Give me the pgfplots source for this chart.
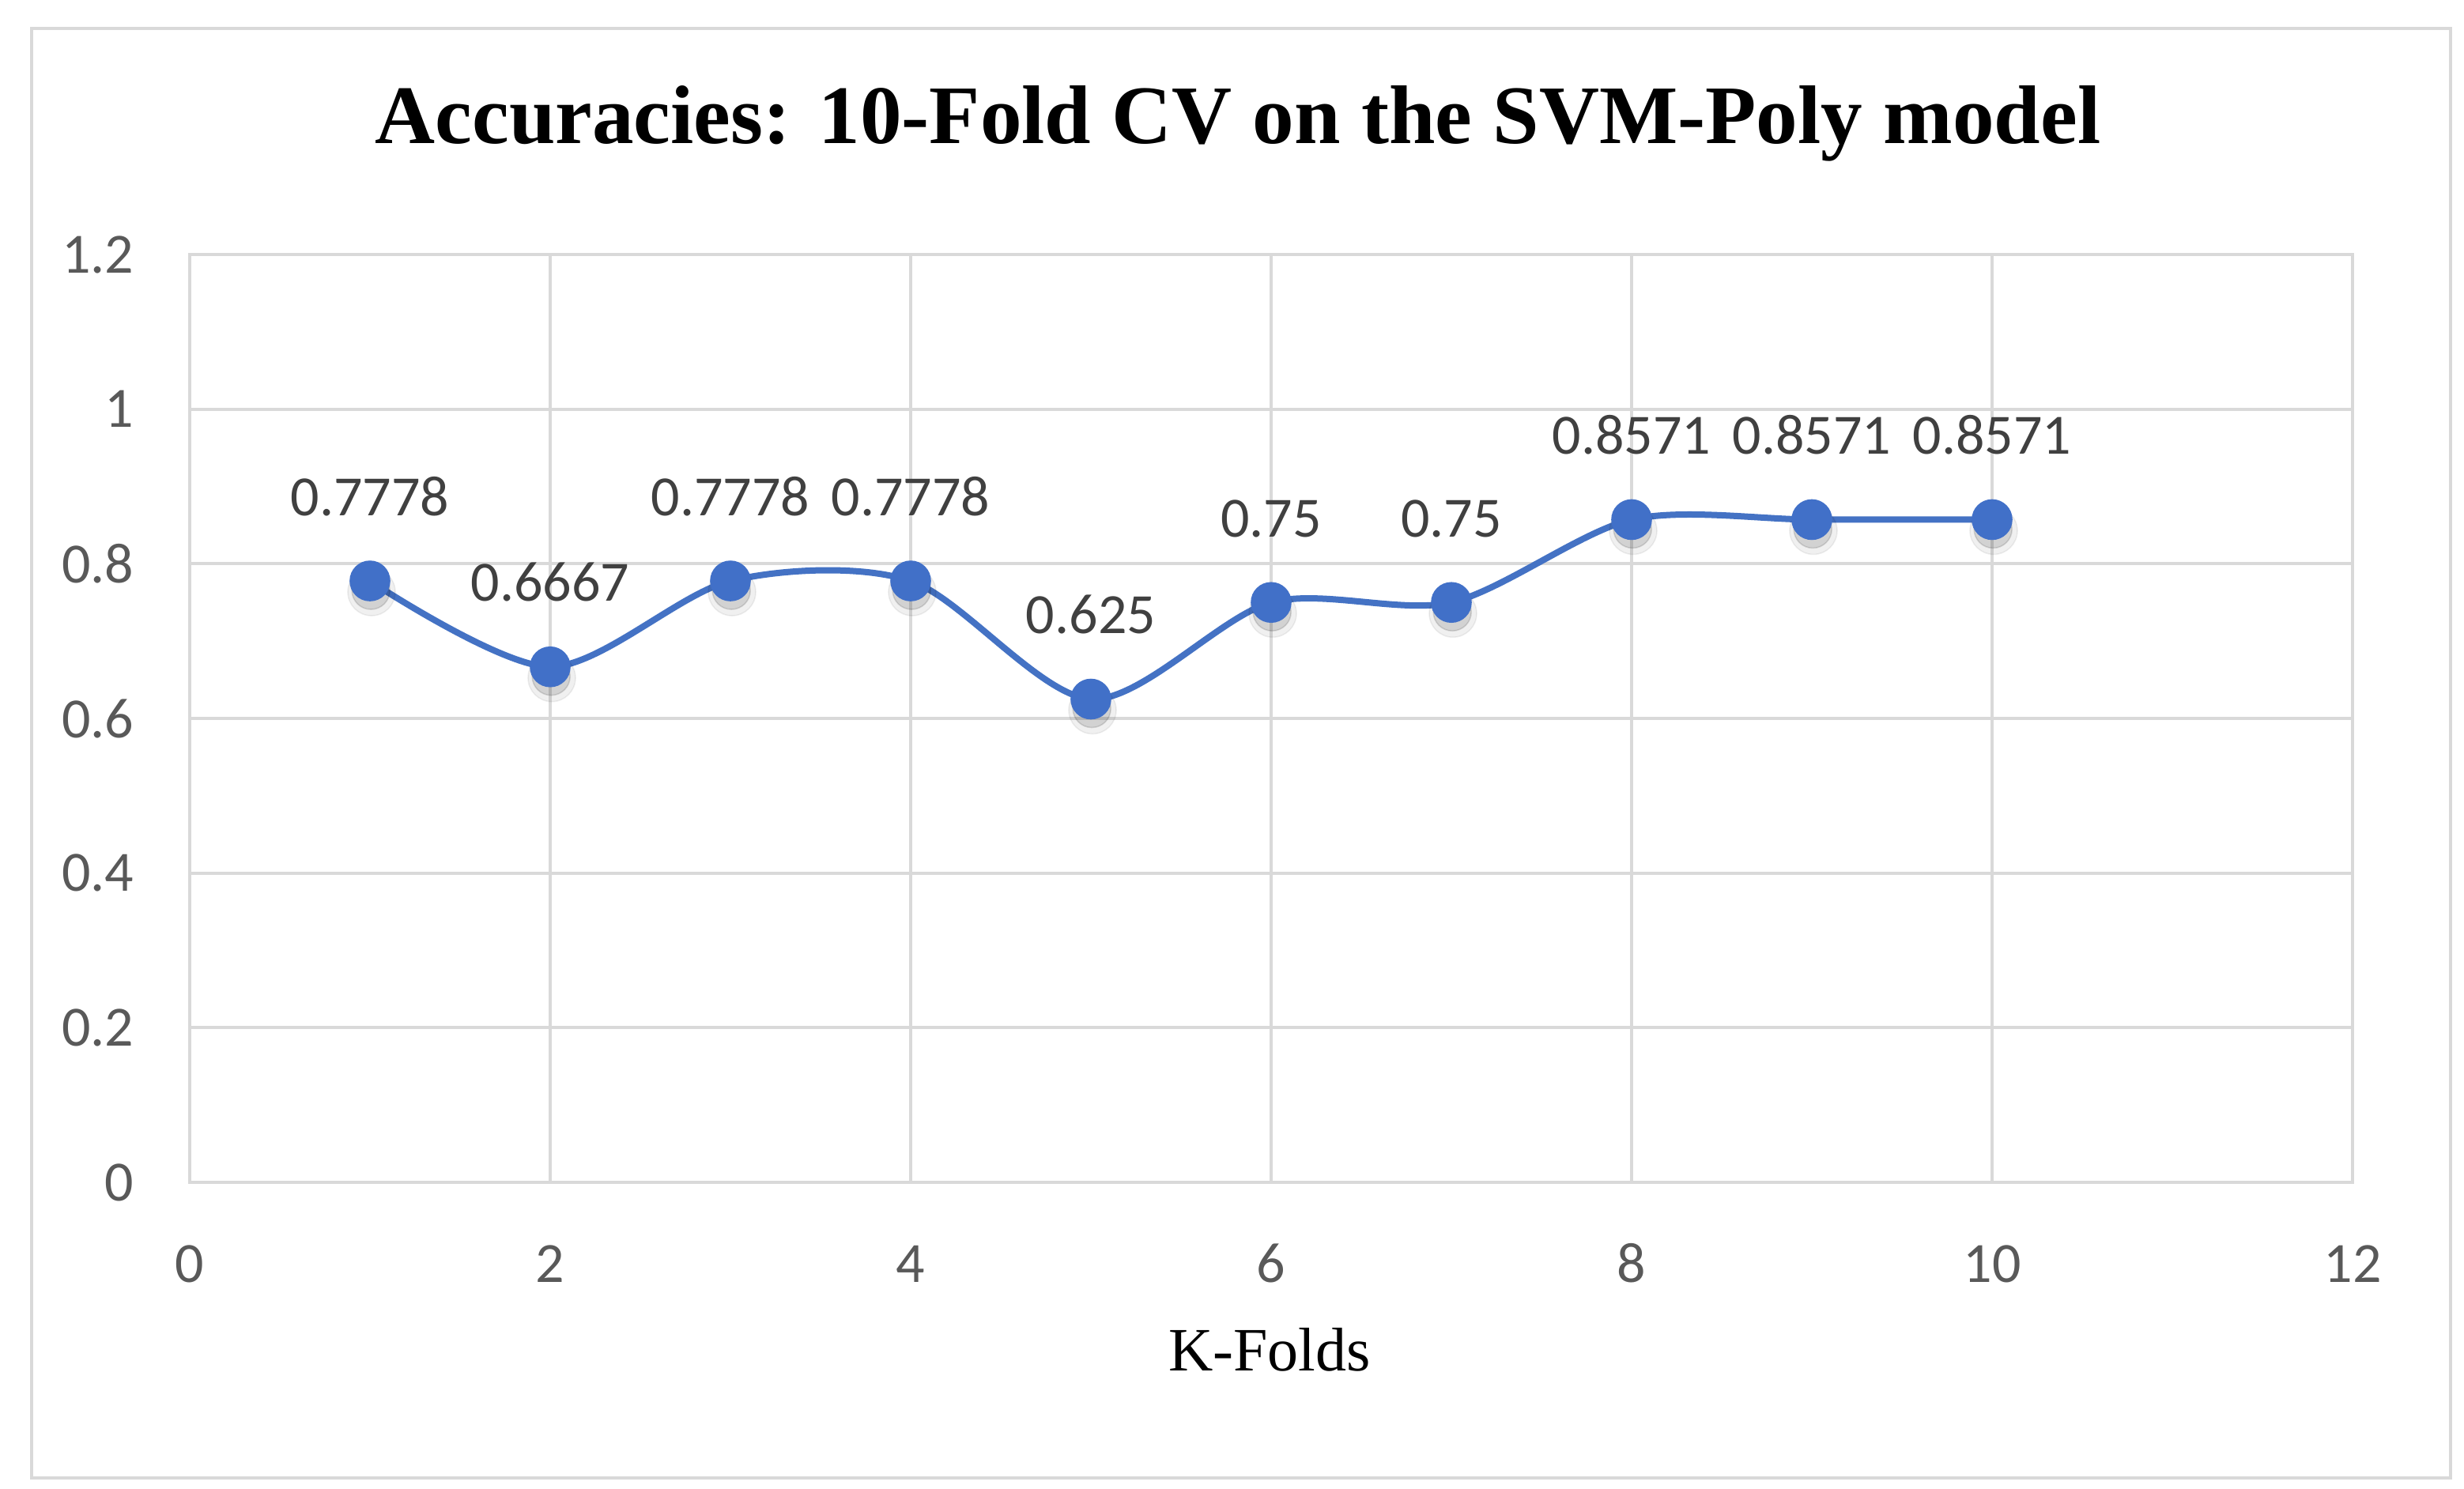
\documentclass[border=0pt]{standalone}
\usepackage{fontspec}
\setmainfont{Carlito}
\newfontfamily\seriffont{Liberation Serif}
\usepackage{pgfplots}
\usepackage{pgfplotstable}
\pgfplotsset{compat=1.18}
\definecolor{gridgray}{HTML}{D9D9D9}
\definecolor{series}{HTML}{4472C4}
\definecolor{markfill}{HTML}{4170C8}
\definecolor{ticktxt}{HTML}{595959}
\definecolor{lbltxt}{HTML}{404040}

\pgfplotstableread{
k acc lbl
1 0.7778 0.7778
2 0.6667 0.6667
3 0.7778 0.7778
4 0.7778 0.7778
5 0.625 0.625
6 0.75 0.75
7 0.75 0.75
8 0.8571 0.8571
9 0.8571 0.8571
10 0.8571 0.8571
}\datatable

\begin{document}
\begin{tikzpicture}
\useasboundingbox (0,0) rectangle (779.25pt,471pt);
\fill[white] (0,0) rectangle (779.25pt,471pt);
\draw[gridgray, line width=1.2pt] (10pt,3.5pt) rectangle (775pt,462pt);
\node[font={\seriffont\bfseries\fontsize{26.3pt}{30pt}\selectfont}, anchor=center, inner sep=0pt] at (391.5pt,432pt) {Accuracies: 10-Fold CV on the SVM-Poly model};
\begin{axis}[
  at={(60pt,97pt)}, anchor=south west,
  scale only axis, width=684pt, height=293.5pt,
  xmin=0, xmax=12, ymin=0, ymax=1.2,
  xtick={0,2,4,6,8,10,12},
  ytick={0,0.2,0.4,0.6,0.8,1,1.2},
  /pgf/number format/assume math mode=true,
  grid=major,
  major grid style={gridgray, line width=1pt},
  axis line style={gridgray, line width=1pt},
  major tick length=0pt,
  tick label style={font=\fontsize{18pt}{20pt}\selectfont, text=ticktxt},
  xticklabel style={anchor=base, inner sep=0pt, yshift=-31.7pt},
  yticklabel style={anchor=east, inner sep=0pt, xshift=-17.5pt},
  clip=false,
]
\addplot[only marks, mark=*, mark size=7.5pt, forget plot,
  mark options={fill=black, draw=none, opacity=0.06, xshift=0.5pt, yshift=-3.5pt}]
  table[x=k, y=acc] {\datatable};
\addplot[only marks, mark=*, mark size=6pt, forget plot,
  mark options={fill=black, draw=none, opacity=0.12, xshift=0.3pt, yshift=-3pt}]
  table[x=k, y=acc] {\datatable};
\addplot[series, line width=2pt, smooth, tension=0.5,
  mark=*, mark size=6.2pt, mark options={fill=markfill, draw=markfill, line width=0.5pt},
  nodes near coords, point meta=explicit symbolic,
  every node near coord/.append style={font=\fontsize{18pt}{20pt}\selectfont, text=lbltxt, anchor=south, inner sep=0pt, yshift=20.3pt}]
  table[x=k, y=acc, meta=lbl] {\datatable};
\end{axis}
\node[font={\seriffont\fontsize{19.5pt}{22pt}\selectfont}, anchor=center, inner sep=0pt] at (401.5pt,44pt) {K-Folds};
\end{tikzpicture}
\end{document}
